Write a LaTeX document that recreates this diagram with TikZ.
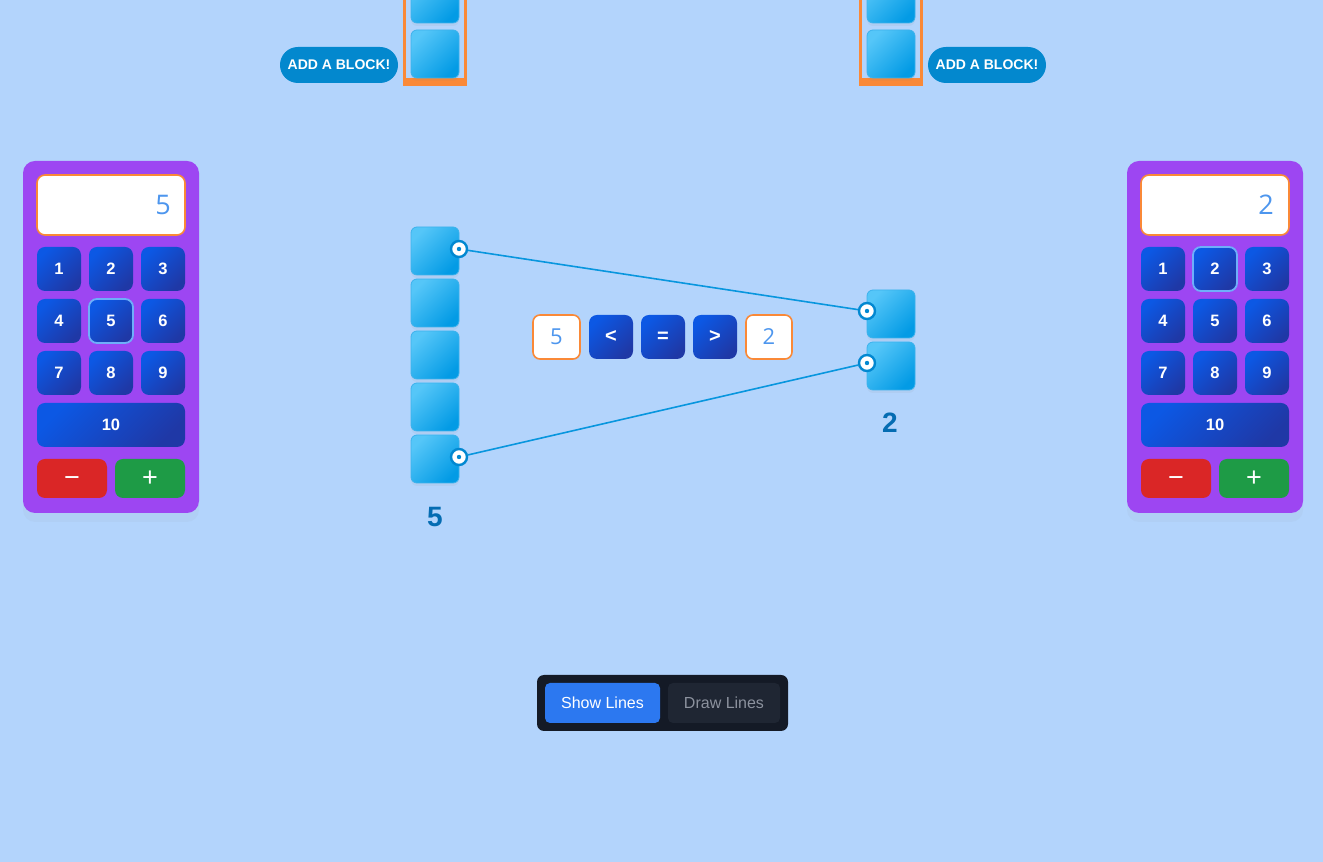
\documentclass[tikz,border=0pt]{standalone}
\usepackage{fontspec}
\setmainfont{Liberation Sans}
\newfontfamily\numfont{Open Sans}
\usetikzlibrary{shadows}

\begin{document}
\begin{tikzpicture}[x=1pt,y=1pt,
  panel/.style={rounded corners=12pt, minimum width=176pt, minimum height=352pt, inner sep=0pt, fill=panelPurple, drop shadow={opacity=0.05, shadow xshift=0pt, shadow yshift=-9pt}},
  display/.style={rounded corners=8pt, minimum width=148pt, minimum height=60pt, inner sep=0pt, fill=white, draw=frameOrange, line width=1.6pt},
  dispnum/.style={inner sep=0pt, text=numBlue, font=\numfont\fontsize{27}{27}\selectfont},
  padkey/.style={rounded corners=8pt, minimum width=44pt, minimum height=44pt, inner sep=0pt, top color=keyTop, bottom color=keyBottom, shading angle=45, text=white, font=\bfseries\fontsize{16.5}{16.5}\selectfont},
  widekey/.style={padkey, minimum width=148pt},
  pickedkey/.style={draw=pickBlue, line width=1.8pt},
  signkey/.style={rounded corners=8pt, minimum width=70pt, minimum height=39pt, inner sep=0pt, text height=15.5pt, text depth=0pt, text=white, font=\fontsize{27}{27}\selectfont},
  unitblock/.style={rounded corners=6pt, minimum size=48pt, inner sep=0pt, top color=blockTop, bottom color=blockBottom, shading angle=45, draw=blockEdge, line width=0.8pt, drop shadow={opacity=0.08, shadow xshift=0pt, shadow yshift=-3pt}},
  pill/.style={rounded corners=17.9pt, minimum width=118pt, minimum height=36pt, inner sep=0pt, fill=pillBlue, text=white, font=\bfseries\fontsize{14}{14}\selectfont},
  pin/.style={circle, minimum size=16pt, inner sep=0pt, fill=white, draw=pinBlue, line width=2.4pt},
  countlabel/.style={inner sep=0pt, text=labelBlue, font=\bfseries\fontsize{28}{28}\selectfont},
  valuebox/.style={rounded corners=7pt, minimum width=47pt, minimum height=44pt, inner sep=0pt, fill=white, draw=frameOrange, line width=1.6pt, text=numBlue, font=\numfont\fontsize{22}{22}\selectfont},
  relkey/.style={padkey, font=\bfseries\fontsize{20}{20}\selectfont},
  modebtn/.style={rounded corners=5pt, minimum height=40pt, inner sep=0pt, font=\fontsize{16}{16}\selectfont}]
\definecolor{bgColor}{RGB}{179,212,252}
\definecolor{panelPurple}{RGB}{157,70,242}
\definecolor{frameOrange}{RGB}{250,137,55}
\definecolor{numBlue}{RGB}{77,150,238}
\definecolor{keyTop}{RGB}{12,88,228}
\definecolor{keyBottom}{RGB}{31,56,166}
\definecolor{pickBlue}{RGB}{110,175,250}
\definecolor{minusRed}{RGB}{218,38,38}
\definecolor{plusGreen}{RGB}{30,155,70}
\definecolor{blockTop}{RGB}{85,198,248}
\definecolor{blockBottom}{RGB}{3,155,229}
\definecolor{blockEdge}{RGB}{60,178,236}
\definecolor{pillBlue}{RGB}{3,136,206}
\definecolor{pinBlue}{RGB}{2,136,209}
\definecolor{lineBlue}{RGB}{8,150,222}
\definecolor{labelBlue}{RGB}{4,108,178}
\definecolor{barDark}{RGB}{20,26,38}
\definecolor{showBlue}{RGB}{44,120,240}
\definecolor{drawGrey}{RGB}{31,38,51}
\definecolor{drawText}{RGB}{140,146,158}
\path[use as bounding box,fill=bgColor] (0,0) rectangle (1323,862);
\begin{scope}
\path[clip] (0,0) rectangle (1323,862);

% top left block tray
\path[fill=frameOrange] (403,776) rectangle (406,862);
\path[fill=frameOrange] (464,776) rectangle (467,862);
\path[fill=frameOrange] (403,776) rectangle (467,784);
\node[unitblock] (trayL1) at (435,863) {};
\node[unitblock] (trayL2) at (435,808) {};
\node[pill] (addL) at (339,797) {ADD A BLOCK!};

% top right block tray
\path[fill=frameOrange] (859,776) rectangle (862,862);
\path[fill=frameOrange] (920,776) rectangle (923,862);
\path[fill=frameOrange] (859,776) rectangle (923,784);
\node[unitblock] (trayR1) at (891,863) {};
\node[unitblock] (trayR2) at (891,808) {};
\node[pill] (addR) at (987,797) {ADD A BLOCK!};
\end{scope}

% left keypad
\node[panel] (padL) at (111,525) {};
\node[display] (dispL) at (111,657) {};
\node[dispnum,anchor=east] (valL) at (171,657) {5};
\node[padkey] (keyL1) at ( 59,593) {1};
\node[padkey] (keyL2) at (111,593) {2};
\node[padkey] (keyL3) at (163,593) {3};
\node[padkey] (keyL4) at ( 59,541) {4};
\node[padkey,pickedkey] (keyL5) at (111,541) {5};
\node[padkey] (keyL6) at (163,541) {6};
\node[padkey] (keyL7) at ( 59,489) {7};
\node[padkey] (keyL8) at (111,489) {8};
\node[padkey] (keyL9) at (163,489) {9};
\node[widekey] (keyL10) at (111,437) {10};
\node[signkey,fill=minusRed] (minusL) at ( 72,383.5) {−};
\node[signkey,fill=plusGreen] (plusL) at (150,383.5) {+};

% right keypad
\node[panel] (padR) at (1215,525) {};
\node[display] (dispR) at (1215,657) {};
\node[dispnum,anchor=east] (valR) at (1274,657) {2};
\node[padkey] (keyR1) at (1163,593) {1};
\node[padkey,pickedkey] (keyR2) at (1215,593) {2};
\node[padkey] (keyR3) at (1267,593) {3};
\node[padkey] (keyR4) at (1163,541) {4};
\node[padkey] (keyR5) at (1215,541) {5};
\node[padkey] (keyR6) at (1267,541) {6};
\node[padkey] (keyR7) at (1163,489) {7};
\node[padkey] (keyR8) at (1215,489) {8};
\node[padkey] (keyR9) at (1267,489) {9};
\node[widekey] (keyR10) at (1215,437) {10};
\node[signkey,fill=minusRed] (minusR) at (1176,383.5) {−};
\node[signkey,fill=plusGreen] (plusR) at (1254,383.5) {+};

% block towers
\node[unitblock] (towL1) at (435,611) {};
\node[unitblock] (towL2) at (435,559) {};
\node[unitblock] (towL3) at (435,507) {};
\node[unitblock] (towL4) at (435,455) {};
\node[unitblock] (towL5) at (435,403) {};
\node[countlabel] (countL) at (435,345) {5};
\node[unitblock] (towR1) at (891,548) {};
\node[unitblock] (towR2) at (891,496) {};
\node[countlabel] (countR) at (890,439) {2};

% matching lines
\node[pin] (pinL1) at (459,613) {};
\node[pin] (pinL2) at (459,405) {};
\node[pin] (pinR1) at (867,551) {};
\node[pin] (pinR2) at (867,499) {};
\draw[draw=lineBlue,line width=1.6pt] (pinL1) -- (pinR1);
\draw[draw=lineBlue,line width=1.6pt] (pinL2) -- (pinR2);
\fill[pinBlue] (pinL1) circle (2.2);
\fill[pinBlue] (pinL2) circle (2.2);
\fill[pinBlue] (pinR1) circle (2.2);
\fill[pinBlue] (pinR2) circle (2.2);

% comparison row
\node[valuebox] (cmpL) at (556.5,525) {5};
\node[relkey] (lessKey) at (611,525) {<};
\node[relkey] (eqKey) at (663,525) {=};
\node[relkey] (moreKey) at (715,525) {>};
\node[valuebox,minimum width=46pt] (cmpR) at (769,525) {2};

% line mode switch
\node[rounded corners=7pt, minimum width=251pt, minimum height=56pt, fill=barDark] (modeBar) at (662.5,159) {};
\node[modebtn,minimum width=115pt,fill=showBlue,text=white] (showBtn) at (602.5,159) {Show Lines};
\node[modebtn,minimum width=112pt,fill=drawGrey,text=drawText] (drawBtn) at (724,159) {Draw Lines};
\end{tikzpicture}
\end{document}
